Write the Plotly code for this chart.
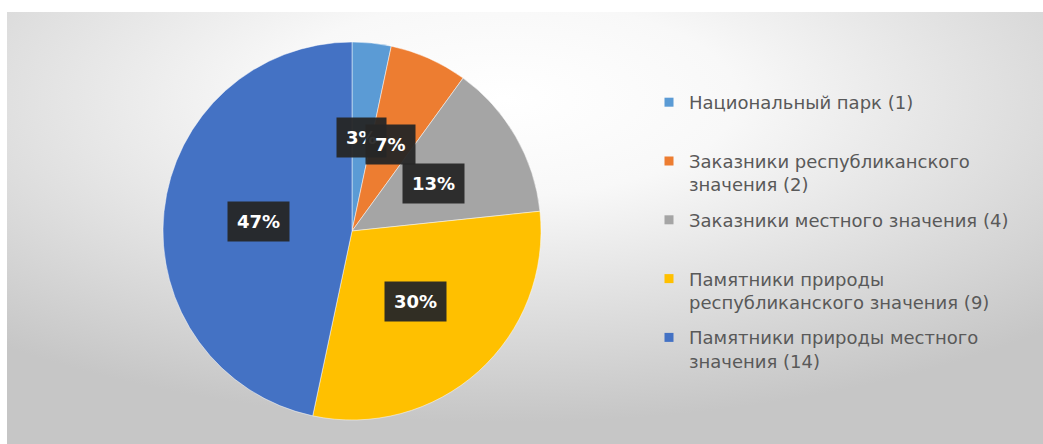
import math
import base64
import plotly.graph_objects as go

# ---- data ----
labels = [
    "Национальный парк (1)",
    "Заказники республиканского<br>значения (2)",
    "Заказники местного значения (4)",
    "Памятники природы<br>республиканского значения (9)",
    "Памятники природы местного<br>значения (14)",
]
values = [1, 2, 4, 9, 14]
colors = ["#5B9BD5", "#ED7D31", "#A5A5A5", "#FFC000", "#4472C4"]

# ---- layout geometry ----
W, H = 1043, 444
cx, cy, R = 352, 231, 189
dom_x = [(cx - R) / W, (cx + R) / W]
dom_y = [1 - (cy + R) / H, 1 - (cy - R) / H]

fig = go.Figure()
fig.add_trace(go.Pie(
    labels=labels,
    values=values,
    sort=False,
    direction="clockwise",
    rotation=0,
    marker=dict(colors=colors, line=dict(color="rgba(255,255,255,0.6)", width=0.8)),
    textinfo="none",
    hoverinfo="label+percent",
    domain=dict(x=dom_x, y=dom_y),
    showlegend=False,
))

# legend entries (one per slice), grouped so that a gap separates them
for i, (lab, col) in enumerate(zip(labels, colors)):
    name = lab if "<br>" in lab else lab + "<br> "
    fig.add_trace(go.Scatter(
        x=[None], y=[None], mode="markers",
        marker=dict(symbol="square", size=9, color=col),
        name=name, legendgroup=f"g{i}", showlegend=True, hoverinfo="skip",
    ))

# percentage labels with dark boxes, positioned from the data
total = sum(values)
cum = 0
for v in values:
    mid = (cum + v / 2) / total * 2 * math.pi
    cum += v
    r = 0.5 * R
    px = cx + r * math.sin(mid)
    py = cy - r * math.cos(mid)
    fig.add_annotation(
        x=px / W, y=1 - py / H, xref="paper", yref="paper",
        xanchor="center", yanchor="middle",
        text=f"{round(v / total * 100)}%",
        showarrow=False,
        font=dict(family="DejaVu Sans", size=18, color="white", weight="bold"),
        bgcolor="rgba(38,38,38,0.95)",
        borderpad=9,
    )

# gradient background (decoration)
svg = (
    "<svg xmlns='http://www.w3.org/2000/svg' width='1036' height='432' preserveAspectRatio='none' viewBox='0 0 1036 432'>"
    "<defs><radialGradient id='g' cx='0.48' cy='0.2' r='0.75'>"
    "<stop offset='0' stop-color='#ffffff'/>"
    "<stop offset='0.3' stop-color='#f8f8f8'/>"
    "<stop offset='1' stop-color='#c6c6c6'/>"
    "</radialGradient></defs>"
    "<rect x='0' y='0' width='1036' height='432' fill='url(#g)'/></svg>"
)
src = "data:image/svg+xml;base64," + base64.b64encode(svg.encode()).decode()
fig.add_layout_image(
    source=src, xref="paper", yref="paper",
    x=7 / W, y=1 - 12 / H, sizex=1 - 7 / W, sizey=1 - 12 / H,
    xanchor="left", yanchor="top", sizing="stretch", layer="below",
)

fig.update_layout(
    width=W, height=H,
    margin=dict(l=0, r=0, t=0, b=0),
    paper_bgcolor="white",
    plot_bgcolor="rgba(0,0,0,0)",
    xaxis=dict(visible=False),
    yaxis=dict(visible=False),
    showlegend=True,
    legend=dict(
        x=649 / W, y=1 - 84 / H, xanchor="left", yanchor="top",
        font=dict(family="DejaVu Sans", size=18, color="#595959"),
        bgcolor="rgba(0,0,0,0)",
        traceorder="grouped",
        tracegroupgap=9,
        valign="top",
        itemwidth=30,
        itemclick=False, itemdoubleclick=False,
    ),
)

fig.write_html(
    "out.html",
    config={"displayModeBar": False},
    post_script="document.body.style.margin='0';",
)
